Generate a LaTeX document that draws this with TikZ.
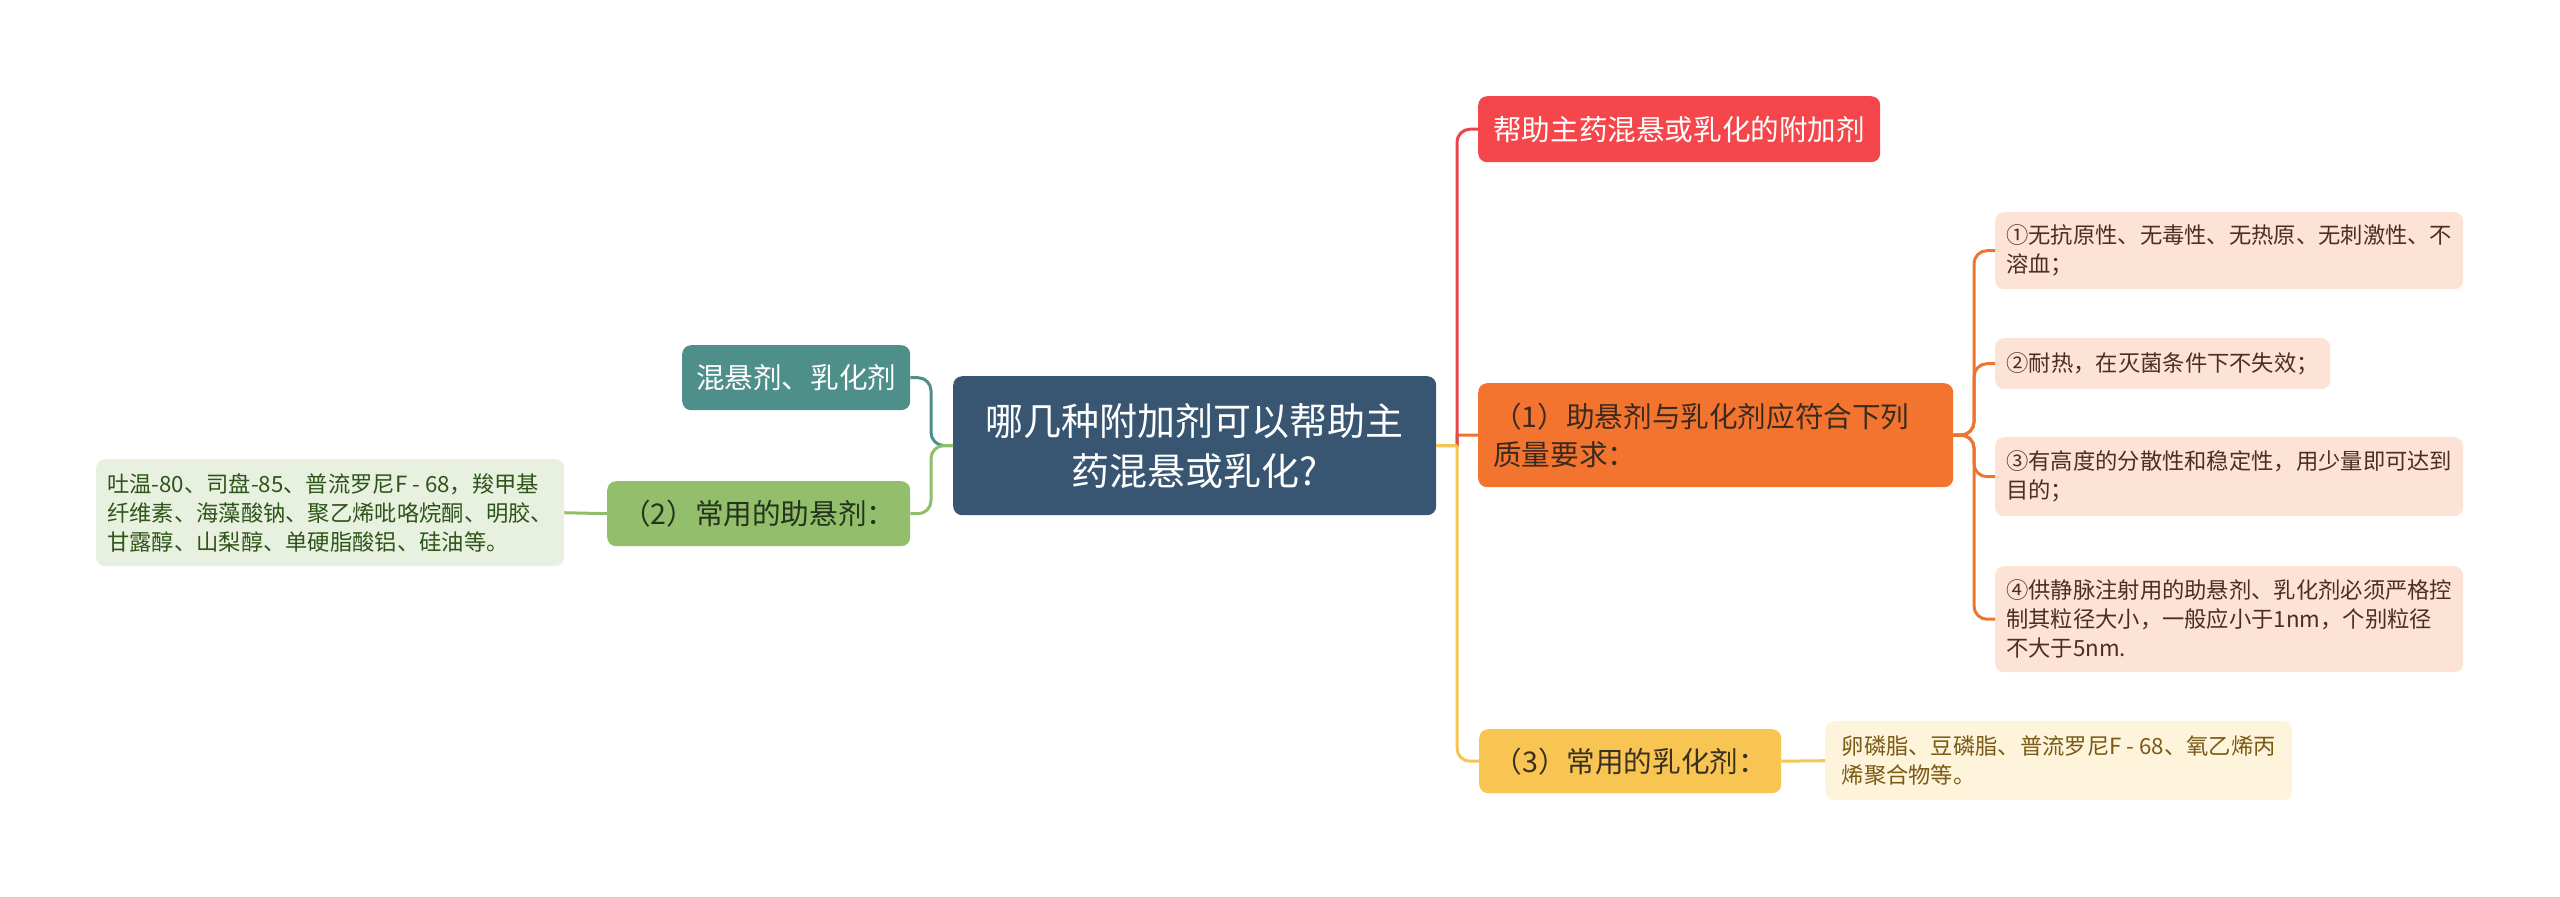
\documentclass[tikz,border=0pt]{standalone}
\usepackage{fontspec}
\setmainfont{Noto Sans CJK SC}
\definecolor{cmain}{HTML}{385571}
\definecolor{cred}{HTML}{F4464B}
\definecolor{credl}{HTML}{E5474B}
\definecolor{corg}{HTML}{F2742F}
\definecolor{corgl}{HTML}{EE7530}
\definecolor{cyel}{HTML}{F8C552}
\definecolor{cyell}{HTML}{F5C555}
\definecolor{cteal}{HTML}{4E8F8A}
\definecolor{cgrn}{HTML}{93BF6C}
\definecolor{cgrnl}{HTML}{8FBE6A}
\definecolor{corgleaf}{HTML}{FDE3D5}
\definecolor{cyelleaf}{HTML}{FEF4DC}
\definecolor{cgrnleaf}{HTML}{E8F1E0}
\definecolor{torgleaf}{HTML}{4B2F20}
\definecolor{tyelleaf}{HTML}{7A5A14}
\definecolor{tgrnleaf}{HTML}{2E5519}
\definecolor{torg}{HTML}{3C2A1E}
\definecolor{tyel}{HTML}{3A3020}
\definecolor{tgrn}{HTML}{24331A}
\tikzset{
  box/.style={rounded corners=9pt, inner sep=0pt, anchor=north west, draw=none},
  mainbox/.style={box, fill=cmain, text=white, align=center, font=\fontsize{38}{50}\selectfont},
  lvone/.style={box, font=\fontsize{28.6}{38}\selectfont},
  leaf/.style={box, align=left, font=\fontsize{22.3}{28.8}\selectfont},
  conn/.style={line width=3pt, rounded corners=13pt},
  sharpconn/.style={line width=3pt},
}
\begin{document}
\begin{tikzpicture}[x=1pt,y=-1pt]
\useasboundingbox (0,0) rectangle (2560,897);
\fill[white] (0,0) rectangle (2560,897);

% central
\node[mainbox, minimum width=483, minimum height=139] (C) at (953,376) {哪几种附加剂可以帮助主\\药混悬或乳化?};

% right level one
\node[lvone, fill=cred, text=white, minimum width=402, minimum height=66] (R) at (1478,96) {帮助主药混悬或乳化的附加剂};
\node[lvone, fill=corg, text=torg, minimum width=475, minimum height=104, text width=445, align=left] (O) at (1478,383) {（1）助悬剂与乳化剂应符合下列\\质量要求：};
\node[lvone, fill=cyel, text=tyel, minimum width=302, minimum height=64] (Y) at (1479,729) {（3）常用的乳化剂：};

% left level one
\node[lvone, fill=cteal, text=white, minimum width=228, minimum height=65] (T) at (682,345) {混悬剂、乳化剂};
\node[lvone, fill=cgrn, text=tgrn, minimum width=303, minimum height=65] (G) at (607,481) {（2）常用的助悬剂：};

% orange leaves
\node[leaf, fill=corgleaf, text=torgleaf, minimum width=468, minimum height=77] (L1) at (1995,212) {①无抗原性、无毒性、无热原、无刺激性、不\\溶血；};
\node[leaf, fill=corgleaf, text=torgleaf, minimum width=335, minimum height=51] (L2) at (1995,338) {②耐热，在灭菌条件下不失效；};
\node[leaf, fill=corgleaf, text=torgleaf, minimum width=468, minimum height=79] (L3) at (1995,437) {③有高度的分散性和稳定性，用少量即可达到\\目的；};
\node[leaf, fill=corgleaf, text=torgleaf, minimum width=468, minimum height=106] (L4) at (1995,566) {④供静脉注射用的助悬剂、乳化剂必须严格控\\制其粒径大小，一般应小于1nm，个别粒径\\不大于5nm.};

% yellow leaf
\node[leaf, fill=cyelleaf, text=tyelleaf, minimum width=467, minimum height=79] (YL) at (1825,721) {卵磷脂、豆磷脂、普流罗尼F~-~68、氧乙烯丙\\烯聚合物等。};

% green leaf
\node[leaf, fill=cgrnleaf, text=tgrnleaf, minimum width=468, minimum height=107] (GL) at (96,459) {吐温-80、司盘-85、普流罗尼F~-~68，羧甲基\\纤维素、海藻酸钠、聚乙烯吡咯烷酮、明胶、\\甘露醇、山梨醇、单硬脂酸铝、硅油等。};

% junctions
\coordinate (rj) at (1457,445.5);
\coordinate (oj) at (1974,435);
\coordinate (lj) at (931,445.5);

% right connectors
\draw[sharpconn, corgl] (C.east) -- (rj) -- (rj |- O.west) -- (O.west);
\draw[conn, credl] (rj) |- (R.west);
\draw[conn, cyell] (rj) |- (Y.west);
\draw[sharpconn, cyell] (C.east) -- (rj);

% orange leaf connectors
\draw[conn, corgl] (O.east) -- (oj) |- (L1.west);
\draw[conn, corgl] (O.east) -- (oj) |- (L2.west);
\draw[conn, corgl] (O.east) -- (oj) |- (L3.west);
\draw[conn, corgl] (O.east) -- (oj) |- (L4.west);

% yellow leaf connector
\draw[conn, cyell] (Y.east) -- (YL.west);

% left connectors
\draw[conn, cteal] (C.west) -- (lj) |- (T.east);
\draw[conn, cgrnl] (C.west) -- (lj) |- (G.east);
\draw[conn, cgrnl] (G.west) -- (GL.east);
\end{tikzpicture}
\end{document}
